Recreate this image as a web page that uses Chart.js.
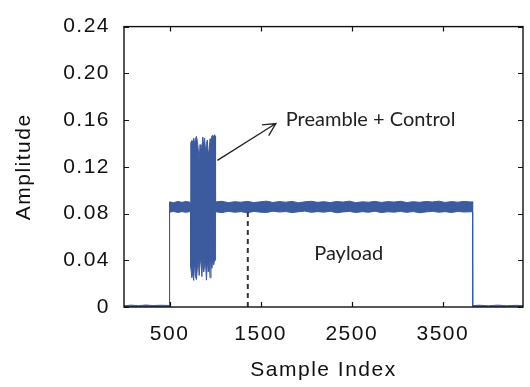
<!DOCTYPE html>
<html>
<head>
<meta charset="utf-8">
<script src="https://cdn.jsdelivr.net/npm/chart.js@4.4.1/dist/chart.umd.min.js"></script>
<style>
  html, body { margin: 0; padding: 0; background: #fff; }
</style>
</head>
<body>
<canvas id="myChart" width="530" height="387"></canvas>
<script>
// signal: sample index with upper / lower edge of the noisy trace
const sampleIdx = [
  0, 80, 160, 240, 320, 400, 499,
  500, 545, 590, 635, 680, 730,
  733, 745, 755, 765, 775, 785, 795, 805, 815, 825, 835, 845, 855, 865,
  875, 885, 895, 905, 915, 925, 935, 945, 955, 965, 975, 985, 995, 1002,
  1005, 1075, 1145, 1215, 1285, 1355, 1425, 1495, 1565, 1635,
  1705, 1775, 1845, 1915, 1985, 2055, 2125, 2195, 2265, 2335,
  2405, 2475, 2545, 2615, 2685, 2755, 2825, 2895, 2965, 3035,
  3105, 3175, 3245, 3315, 3385, 3455, 3525, 3595, 3665, 3735,
  3805, 3826,
  3827, 3900, 4000, 4100, 4200, 4300, 4380
];

const upperAmp = [
  0.0010, 0.0016, 0.0011, 0.0017, 0.0012, 0.0015, 0.0013,
  0.0900, 0.0893, 0.0904, 0.0896, 0.0902, 0.0897,
  0.1405, 0.1425, 0.1410, 0.1445, 0.1395, 0.1440, 0.1460, 0.1420, 0.1350, 0.1260, 0.1390, 0.1300, 0.1365, 0.1455,
  0.1380, 0.1445, 0.1320, 0.1400, 0.1430, 0.1300, 0.1350, 0.1440, 0.1395, 0.1465, 0.1470, 0.1455, 0.1475, 0.1460,
  0.0899, 0.0905, 0.0893, 0.0901, 0.0897, 0.0904, 0.0894, 0.0900, 0.0906, 0.0895,
  0.0902, 0.0897, 0.0904, 0.0892, 0.0900, 0.0905, 0.0896, 0.0901, 0.0894, 0.0903,
  0.0898, 0.0906, 0.0893, 0.0900, 0.0897, 0.0904, 0.0895, 0.0902, 0.0898, 0.0905,
  0.0894, 0.0901, 0.0896, 0.0903, 0.0899, 0.0906, 0.0895, 0.0902, 0.0897, 0.0904,
  0.0899, 0.0900,
  0.0012, 0.0015, 0.0010, 0.0016, 0.0011, 0.0014, 0.0012
];

const lowerAmp = [
  0, 0, 0, 0, 0, 0, 0,
  0.0812, 0.0818, 0.0809, 0.0816, 0.0811, 0.0817,
  0.0340, 0.0250, 0.0300, 0.0228, 0.0400, 0.0260, 0.0235, 0.0330, 0.0410, 0.0270, 0.0380, 0.0400, 0.0260, 0.0420,
  0.0300, 0.0350, 0.0380, 0.0230, 0.0400, 0.0300, 0.0390, 0.0250, 0.0400, 0.0330, 0.0420, 0.0360, 0.0410, 0.0400,
  0.0815, 0.0808, 0.0819, 0.0811, 0.0816, 0.0807, 0.0818, 0.0812, 0.0809, 0.0820,
  0.0813, 0.0817, 0.0808, 0.0815, 0.0821, 0.0810, 0.0816, 0.0812, 0.0819, 0.0807,
  0.0814, 0.0818, 0.0809, 0.0816, 0.0811, 0.0820, 0.0808, 0.0815, 0.0812, 0.0818,
  0.0810, 0.0817, 0.0807, 0.0814, 0.0819, 0.0811, 0.0816, 0.0809, 0.0818, 0.0813,
  0.0815, 0.0814,
  0, 0, 0, 0, 0, 0, 0
];

const xTicks = [500, 1500, 2500, 3500];
const yTicks = [0, 0.04, 0.08, 0.12, 0.16, 0.20, 0.24];

// payload start marker (dashed) and the annotation
const markerX = 1359;
const markerTop = 0.081;
const arrowStart = [1025, 0.1255];
const arrowEnd = [1667, 0.157];
const noteText = ['Preamble + Control', 'Payload'];
const noteX = [1776, 2466];
const noteY = [0.1607, 0.0461];

const blue = 'rgb(60, 90, 158)';
const axisFont = { family: '"Liberation Sans", Arial, sans-serif', size: 21 };

const upperPts = sampleIdx.map((x, i) => ({ x: x, y: upperAmp[i] }));
const lowerPts = sampleIdx.map((x, i) => ({ x: x, y: lowerAmp[i] }));

const frameAndNotes = {
  id: 'frameAndNotes',
  beforeUpdate(chart) { chart.ctx.letterSpacing = '1.5px'; },
  beforeDraw(chart) { chart.ctx.letterSpacing = '1.5px'; },
  afterDraw(chart) {
    const { ctx, chartArea: a, scales: { x, y } } = chart;
    ctx.save();
    ctx.letterSpacing = '0px';
    ctx.strokeStyle = '#111';
    ctx.lineWidth = 1.4;
    ctx.strokeRect(a.left, a.top, a.right - a.left, a.bottom - a.top);

    // inward ticks on all four sides
    ctx.lineWidth = 1.2;
    ctx.beginPath();
    xTicks.forEach(v => {
      const px = Math.round(x.getPixelForValue(v)) + 0.5;
      ctx.moveTo(px, a.bottom); ctx.lineTo(px, a.bottom - 5);
      ctx.moveTo(px, a.top); ctx.lineTo(px, a.top + 5);
    });
    yTicks.forEach(v => {
      const py = Math.round(y.getPixelForValue(v)) + 0.5;
      ctx.moveTo(a.left, py); ctx.lineTo(a.left + 5, py);
      ctx.moveTo(a.right, py); ctx.lineTo(a.right - 5, py);
    });
    ctx.stroke();

    // arrow
    const x0 = x.getPixelForValue(arrowStart[0]), y0 = y.getPixelForValue(arrowStart[1]);
    const x1 = x.getPixelForValue(arrowEnd[0]), y1 = y.getPixelForValue(arrowEnd[1]);
    const ang = Math.atan2(y1 - y0, x1 - x0);
    ctx.strokeStyle = '#222';
    ctx.lineWidth = 1.3;
    ctx.beginPath();
    ctx.moveTo(x0, y0); ctx.lineTo(x1, y1);
    ctx.moveTo(x1 - 14 * Math.cos(ang - 0.47), y1 - 14 * Math.sin(ang - 0.47));
    ctx.lineTo(x1, y1);
    ctx.lineTo(x1 - 14 * Math.cos(ang + 0.47), y1 - 14 * Math.sin(ang + 0.47));
    ctx.stroke();

    // labels
    ctx.fillStyle = '#222';
    ctx.font = '20px Lato, "Open Sans", sans-serif';
    ctx.textBaseline = 'middle';
    ctx.textAlign = 'left';
    ctx.fillText(noteText[0], x.getPixelForValue(noteX[0]), y.getPixelForValue(noteY[0]));
    ctx.textAlign = 'center';
    ctx.fillText(noteText[1], x.getPixelForValue(noteX[1]), y.getPixelForValue(noteY[1]));
    ctx.restore();
  }
};

const ctx = document.getElementById('myChart');

new Chart(ctx, {
  type: 'line',
  data: {
    datasets: [
      {
        label: 'payload start',
        data: [{ x: markerX, y: 0 }, { x: markerX, y: markerTop }],
        borderColor: '#333',
        borderWidth: 2,
        borderDash: [5, 4],
        pointRadius: 0,
        fill: false
      },
      {
        label: 'lower',
        data: lowerPts,
        borderColor: blue,
        borderWidth: 1,
        pointRadius: 0,
        tension: 0,
        fill: false
      },
      {
        label: 'upper',
        data: upperPts,
        borderColor: blue,
        backgroundColor: blue,
        borderWidth: 1,
        pointRadius: 0,
        tension: 0,
        fill: { target: 1 }
      }
    ]
  },
  options: {
    responsive: false,
    animation: false,
    layout: { padding: { top: 13, right: 7, left: 0, bottom: 0 } },
    plugins: {
      legend: { display: false },
      tooltip: { enabled: false }
    },
    scales: {
      x: {
        type: 'linear',
        min: 0,
        max: 4380,
        afterBuildTicks: s => { s.ticks = xTicks.map(v => ({ value: v })); },
        afterFit: s => { s.height = 80; },
        grid: { display: false, drawTicks: false },
        border: { display: false },
        ticks: { font: axisFont, color: '#111', padding: 15, maxRotation: 0, callback: v => String(v) },
        title: { display: true, text: 'Sample Index', font: axisFont, color: '#111', padding: { top: 0, bottom: 4 } }
      },
      y: {
        type: 'linear',
        min: 0,
        max: 0.24,
        afterBuildTicks: s => { s.ticks = yTicks.map(v => ({ value: v })); },
        afterFit: s => { s.width = 124; },
        grid: { display: false, drawTicks: false },
        border: { display: false },
        ticks: {
          font: axisFont,
          color: '#111',
          padding: 14,
          callback: v => v === 0 ? '0' : v.toFixed(2)
        },
        title: { display: true, text: 'Amplitude', font: axisFont, color: '#111', padding: { top: 12, bottom: 0 } }
      }
    }
  },
  plugins: [frameAndNotes]
});
</script>
</body>
</html>
